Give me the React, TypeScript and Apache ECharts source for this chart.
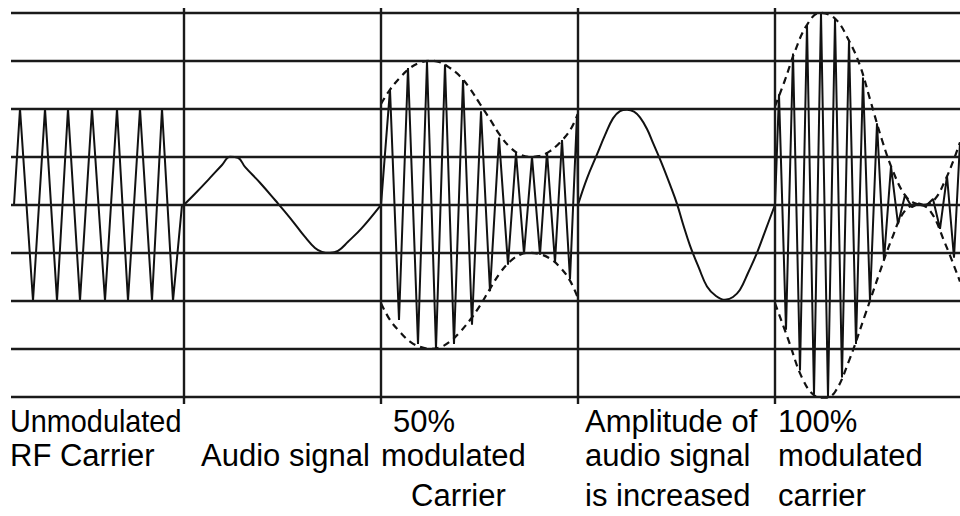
import React, { useEffect, useRef } from "react";
import * as echarts from "echarts";

// Horizontal grid levels (amplitude units) and section dividers (time units)
const levels = [-4, -3, -2, -1, 0, 1, 2, 3, 4];
const dividers = [173, 370, 567, 764];

// Section 1: unmodulated RF carrier
const carrierRF: [number, number][] = [
  [3, 0], [9, 2], [22, -2], [34, 2], [46, -2], [57, 2], [69, -2], [81, 2],
  [94, -2], [106, 2], [117, -2], [129, 2], [141, -2], [151, 2], [162, -2], [171, 0],
];

// Section 2: audio signal
const audioSignal: [number, number][] = [
  [173, 0], [184, 0.23], [199, 0.56], [211, 0.83], [219, 1.0], [227, 0.98],
  [234, 0.79], [249, 0.46], [264, 0.1], [279, -0.27], [294, -0.67], [304, -0.9],
  [311, -0.98], [319, -1.0], [327, -0.96], [337, -0.77], [351, -0.48], [370, 0],
];

// Section 3: 50% modulated carrier
const carrier50: [number, number][] = [
  [370, 0], [379, 2.4], [388, -2.4], [397, 2.85], [407, -2.9], [416, 2.98],
  [425, -3.0], [434, 2.92], [443, -2.9], [452, 2.6], [461, -2.5], [470, 1.95],
  [479, -1.8], [488, 1.4], [497, -1.25], [505, 1.08], [513, -1.02], [521, 1.0],
  [529, -1.04], [536, 1.1], [544, -1.2], [551, 1.35], [559, -1.55], [566, 1.88],
  [567, 0],
];
const env50Upper: [number, number][] = [
  [370, 2.1], [379, 2.4], [389, 2.65], [399, 2.85], [409, 2.96], [419, 3.0],
  [429, 2.97], [439, 2.85], [449, 2.68], [459, 2.42], [469, 2.1], [479, 1.78],
  [489, 1.45], [499, 1.2], [509, 1.05], [519, 1.0], [529, 1.02], [539, 1.12],
  [549, 1.3], [559, 1.55], [567, 1.9],
];
const env50Lower: [number, number][] = [
  [370, -2.05], [379, -2.4], [389, -2.65], [399, -2.85], [409, -2.96], [419, -3.0],
  [429, -2.97], [439, -2.85], [449, -2.65], [459, -2.4], [469, -2.1], [479, -1.75],
  [489, -1.42], [499, -1.18], [509, -1.04], [519, -1.0], [529, -1.03], [539, -1.12],
  [549, -1.3], [559, -1.58], [567, -1.95],
];

// Section 4: audio signal with increased amplitude
const audioLoud: [number, number][] = [
  [567, 0], [576, 0.55], [586, 1.05], [594, 1.45], [602, 1.8], [609, 1.95],
  [616, 1.98], [623, 1.94], [629, 1.82], [636, 1.58], [642, 1.29], [650, 0.9],
  [659, 0.42], [666, 0.02], [672, -0.4], [679, -0.85], [688, -1.32], [696, -1.7],
  [705, -1.9], [714, -1.98], [722, -1.92], [729, -1.77], [737, -1.42], [746, -1.0],
  [755, -0.5], [764, 0],
];

// Section 5: 100% modulated carrier
const carrier100: [number, number][] = [
  [764, 0], [768, 2.3], [775, -2.6], [782, 3.15], [789, -3.45], [796, 3.75],
  [803, -3.95], [810, 4.0], [817, -4.0], [824, 3.88], [831, -3.6], [838, 3.42],
  [845, -2.9], [852, 2.65], [859, -2.0], [866, 1.7], [873, -1.15], [880, 0.8],
  [887, -0.4], [894, 0.2], [901, -0.05], [908, 0.03], [915, -0.02], [922, 0.12],
  [929, -0.5], [936, 0.6], [943, -1.1], [949, 1.3],
];
const env100Upper: [number, number][] = [
  [764, 2.05], [774, 2.6], [784, 3.2], [796, 3.75], [809, 4.0], [824, 3.88],
  [838, 3.42], [849, 2.9], [859, 2.2], [871, 1.35], [882, 0.7], [894, 0.2],
  [904, 0.03], [914, 0.0], [924, 0.12], [934, 0.5], [942, 0.9], [949, 1.3],
];
const env100Lower: [number, number][] = [
  [764, -2.05], [778, -2.85], [791, -3.6], [804, -3.98], [814, -4.02], [824, -3.9],
  [838, -3.25], [854, -2.3], [868, -1.45], [881, -0.7], [894, -0.12], [907, 0.0],
  [919, -0.12], [934, -0.8], [949, -1.6],
];

// Captions: text, left x, row, horizontal squeeze
const captions: [string, number, number, number][] = [
  ["Unmodulated", 10, 0, 0.93], ["RF Carrier", 10, 1, 1],
  ["Audio signal", 201, 1, 1],
  ["50%", 393, 0, 1], ["modulated", 381, 1, 1], ["Carrier", 411, 2, 1],
  ["Amplitude of", 585, 0, 1], ["audio signal", 585, 1, 1], ["is increased", 585, 2, 1],
  ["100%", 778, 0, 1], ["modulated", 778, 1, 1], ["carrier", 778, 2, 1],
];
const rowY = [421, 455, 495];

const INK = "#111";

export default function App() {
  const ref = useRef<HTMLDivElement>(null);
  useEffect(() => {
    if (!ref.current) return;
    const chart = echarts.init(ref.current, null, { renderer: "svg" });
    const solid = (name: string, data: [number, number][], smooth: number | boolean) => ({
      name,
      type: "line",
      data,
      symbol: "none",
      smooth,
      silent: true,
      lineStyle: { color: INK, width: 2 },
      z: 3,
    });
    const dashed = (name: string, data: [number, number][]) => ({
      name,
      type: "line",
      data,
      symbol: "none",
      smooth: 0.4,
      silent: true,
      lineStyle: { color: INK, width: 2.2, type: [7, 5] },
      z: 4,
    });
    chart.setOption({
      animation: false,
      backgroundColor: "#fff",
      grid: { left: 11, right: 0, top: 8, bottom: 112, containLabel: false },
      xAxis: { type: "value", min: 0, max: 949, show: false },
      yAxis: { type: "value", min: -4.15, max: 4.1, show: false },
      series: [
        {
          name: "grid",
          type: "line",
          data: [],
          symbol: "none",
          silent: true,
          markLine: {
            silent: true,
            symbol: ["none", "none"],
            label: { show: false },
            lineStyle: { color: "#1a1a1a", width: 2.4, type: "solid" },
            data: [
              ...levels.map((v) => ({ yAxis: v })),
              ...dividers.map((v) => ({ xAxis: v })),
            ],
          },
        },
        solid("Unmodulated RF carrier", carrierRF, false),
        solid("Audio signal", audioSignal, 0.4),
        solid("50% modulated carrier", carrier50, false),
        dashed("50% envelope upper", env50Upper),
        dashed("50% envelope lower", env50Lower),
        solid("Amplitude of audio signal increased", audioLoud, 0.4),
        solid("100% modulated carrier", carrier100, false),
        dashed("100% envelope upper", env100Upper),
        dashed("100% envelope lower", env100Lower),
      ],
      graphic: captions.map(([text, x, row, sx]) => ({
        type: "text",
        x,
        y: rowY[row],
        scaleX: sx,
        style: {
          text,
          fill: "#000",
          font: '31px "Liberation Sans", Arial, sans-serif',
          textAlign: "left",
          textVerticalAlign: "middle",
        },
      })),
    });
    return () => chart.dispose();
  }, []);
  return (
    <div
      ref={ref}
      style={{ position: "fixed", left: 0, top: 0, width: 960, height: 516, background: "#fff" }}
    />
  );
}
